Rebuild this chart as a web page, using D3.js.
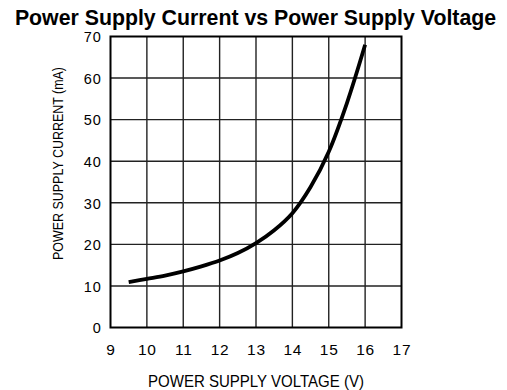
<!DOCTYPE html>
<html>
<head>
<meta charset="utf-8">
<script src="https://cdn.jsdelivr.net/npm/d3@7"></script>
<style>
  html, body { margin: 0; padding: 0; background: #fff; }
  svg { display: block; }
</style>
</head>
<body>
<svg id="chart" width="507" height="390"></svg>
<script>
// Supply voltage (V) and measured supply current (mA)
const voltage = [9.5, 10, 10.5, 11, 11.5, 12, 12.5, 13, 13.5, 14, 14.5, 15, 15.5, 16];
const current = [10.9, 11.7, 12.5, 13.5, 14.7, 16.1, 17.9, 20.3, 23.4, 27.5, 33.8, 42.3, 54.0, 68.0];

const xTicks = [9, 10, 11, 12, 13, 14, 15, 16, 17];
const yTicks = [0, 10, 20, 30, 40, 50, 60, 70];

const titleText = "Power Supply Current vs Power Supply Voltage";
const xTitle = "POWER SUPPLY VOLTAGE (V)";
const yTitle = "POWER SUPPLY CURRENT (mA)";

const svg = d3.select("#chart");
const plot = { left: 110.5, right: 401.5, top: 36.5, bottom: 327.5 };

const x = d3.scaleLinear().domain([9, 17]).range([plot.left, plot.right]);
const y = d3.scaleLinear().domain([0, 70]).range([plot.bottom, plot.top]);

const labelFont = "'Liberation Sans', Arial, sans-serif";

// Grid
const grid = svg.append("g").attr("stroke", "#222").attr("stroke-width", 1.4);
grid.selectAll("line.v").data(xTicks.slice(1, -1)).join("line")
  .attr("x1", d => x(d)).attr("x2", d => x(d))
  .attr("y1", plot.top).attr("y2", plot.bottom);
grid.selectAll("line.h").data(yTicks.slice(1, -1)).join("line")
  .attr("x1", plot.left).attr("x2", plot.right)
  .attr("y1", d => y(d)).attr("y2", d => y(d));

// Frame
svg.append("rect")
  .attr("x", plot.left).attr("y", plot.top)
  .attr("width", plot.right - plot.left).attr("height", plot.bottom - plot.top)
  .attr("fill", "none").attr("stroke", "#000").attr("stroke-width", 2);

// Axes (labels only, the frame carries the lines)
const xAxis = d3.axisBottom(x).tickValues(xTicks).tickSize(0).tickPadding(0).tickFormat(d3.format("d"));
const gx = svg.append("g").attr("transform", `translate(0,${plot.bottom})`).call(xAxis);
gx.select(".domain").remove();
gx.selectAll("text")
  .attr("y", 27.5).attr("dy", null)
  .attr("font-family", labelFont).attr("font-size", 15.5)
  .attr("letter-spacing", 0.8).attr("fill", "#000");

const yAxis = d3.axisLeft(y).tickValues(yTicks).tickSize(0).tickPadding(0).tickFormat(d3.format("d"));
const gy = svg.append("g").attr("transform", `translate(${plot.left},0)`).call(yAxis);
gy.select(".domain").remove();
gy.selectAll("text")
  .attr("x", -9).attr("dy", "0.36em")
  .attr("font-family", labelFont).attr("font-size", 14.5)
  .attr("letter-spacing", 0.8).attr("fill", "#000");

// Curve
const line = d3.line()
  .x((d, i) => x(voltage[i]))
  .y(d => y(d))
  .curve(d3.curveCatmullRom.alpha(0.5));
svg.append("path")
  .attr("d", line(current))
  .attr("fill", "none").attr("stroke", "#000")
  .attr("stroke-width", 3.8).attr("stroke-linecap", "butt");

// Titles
svg.append("text")
  .attr("x", 255.5).attr("y", 25)
  .attr("text-anchor", "middle")
  .attr("font-family", labelFont).attr("font-weight", "bold").attr("font-size", 21.3)
  .attr("fill", "#000")
  .text(titleText);

// Axis titles use a condensed setting of the same face
svg.append("text")
  .attr("x", (plot.left + plot.right) / 2).attr("y", 386.5)
  .attr("text-anchor", "middle")
  .attr("font-family", labelFont).attr("font-size", 16.5)
  .attr("textLength", 216).attr("lengthAdjust", "spacingAndGlyphs")
  .attr("fill", "#000")
  .text(xTitle);

svg.append("text")
  .attr("transform", `translate(63,163.5) rotate(-90)`)
  .attr("text-anchor", "middle")
  .attr("font-family", labelFont).attr("font-size", 15)
  .attr("textLength", 193).attr("lengthAdjust", "spacingAndGlyphs")
  .attr("fill", "#000")
  .text(yTitle);
</script>
</body>
</html>
